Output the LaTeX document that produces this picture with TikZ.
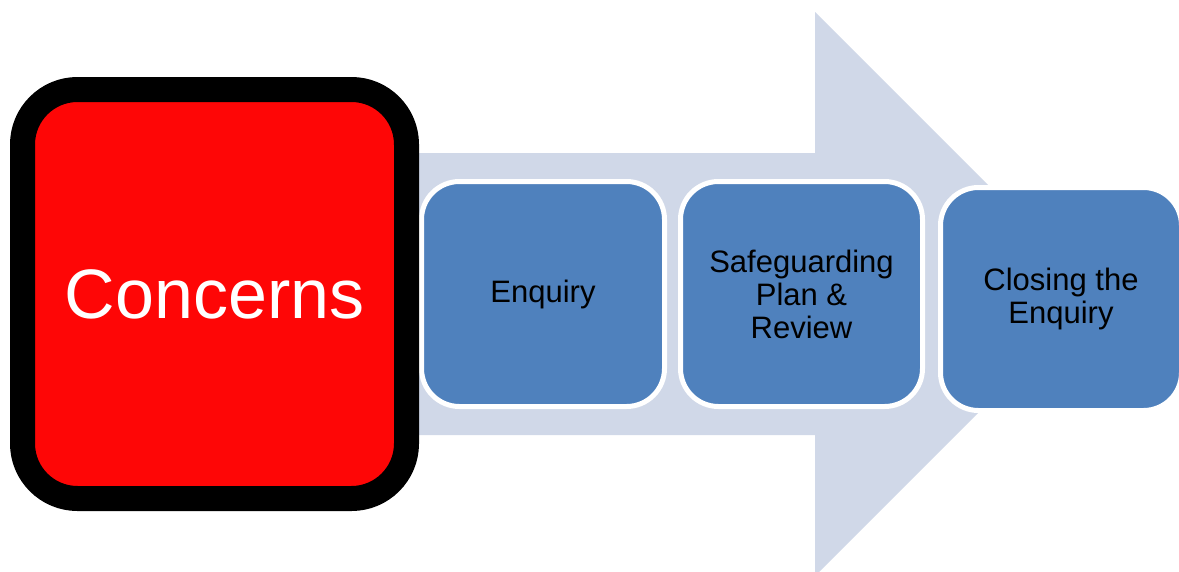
\documentclass[tikz,border=0pt]{standalone}
\usepackage{fontspec}
\setmainfont{Liberation Sans}
\definecolor{arrowfill}{HTML}{D0D8E8}
\definecolor{stepblue}{HTML}{4F81BD}
\definecolor{concernred}{HTML}{FE0606}
\tikzset{
  stagebox/.style={rectangle, rounded corners=38pt, fill=stepblue, draw=white,
    line width=5pt, minimum height=225pt, inner sep=0pt, align=center,
    font=\fontsize{31}{33}\selectfont, text=black},
  concernbox/.style={rectangle, rounded corners=55pt, fill=concernred, draw=black,
    line width=25pt, minimum width=384pt, minimum height=409pt, inner sep=0pt,
    font=\fontsize{70}{80}\selectfont, text=white}
}
\begin{document}
\begin{tikzpicture}[x=1pt,y=-1pt]
  \clip (0,0) rectangle (1179,571);
  \fill[white] (0,0) rectangle (1179,571);
  % big background arrow
  \fill[arrowfill] (200,153) -- (815,153) -- (815,12) -- (1097,294)
    -- (815,576) -- (815,435) -- (200,435) -- cycle;
  % stages
  \node[stagebox, minimum width=243pt] (enq) at (543,294) {Enquiry};
  \node[stagebox, minimum width=242pt] (safe) at (801.5,294) {Safeguarding\\Plan \&\\Review};
  \node[stagebox, minimum width=241pt, minimum height=223pt] (close) at (1061,299) {Closing the\\Enquiry};
  % concerns
  \node[concernbox] (conc) at (214.5,294) {Concerns};
\end{tikzpicture}
\end{document}
